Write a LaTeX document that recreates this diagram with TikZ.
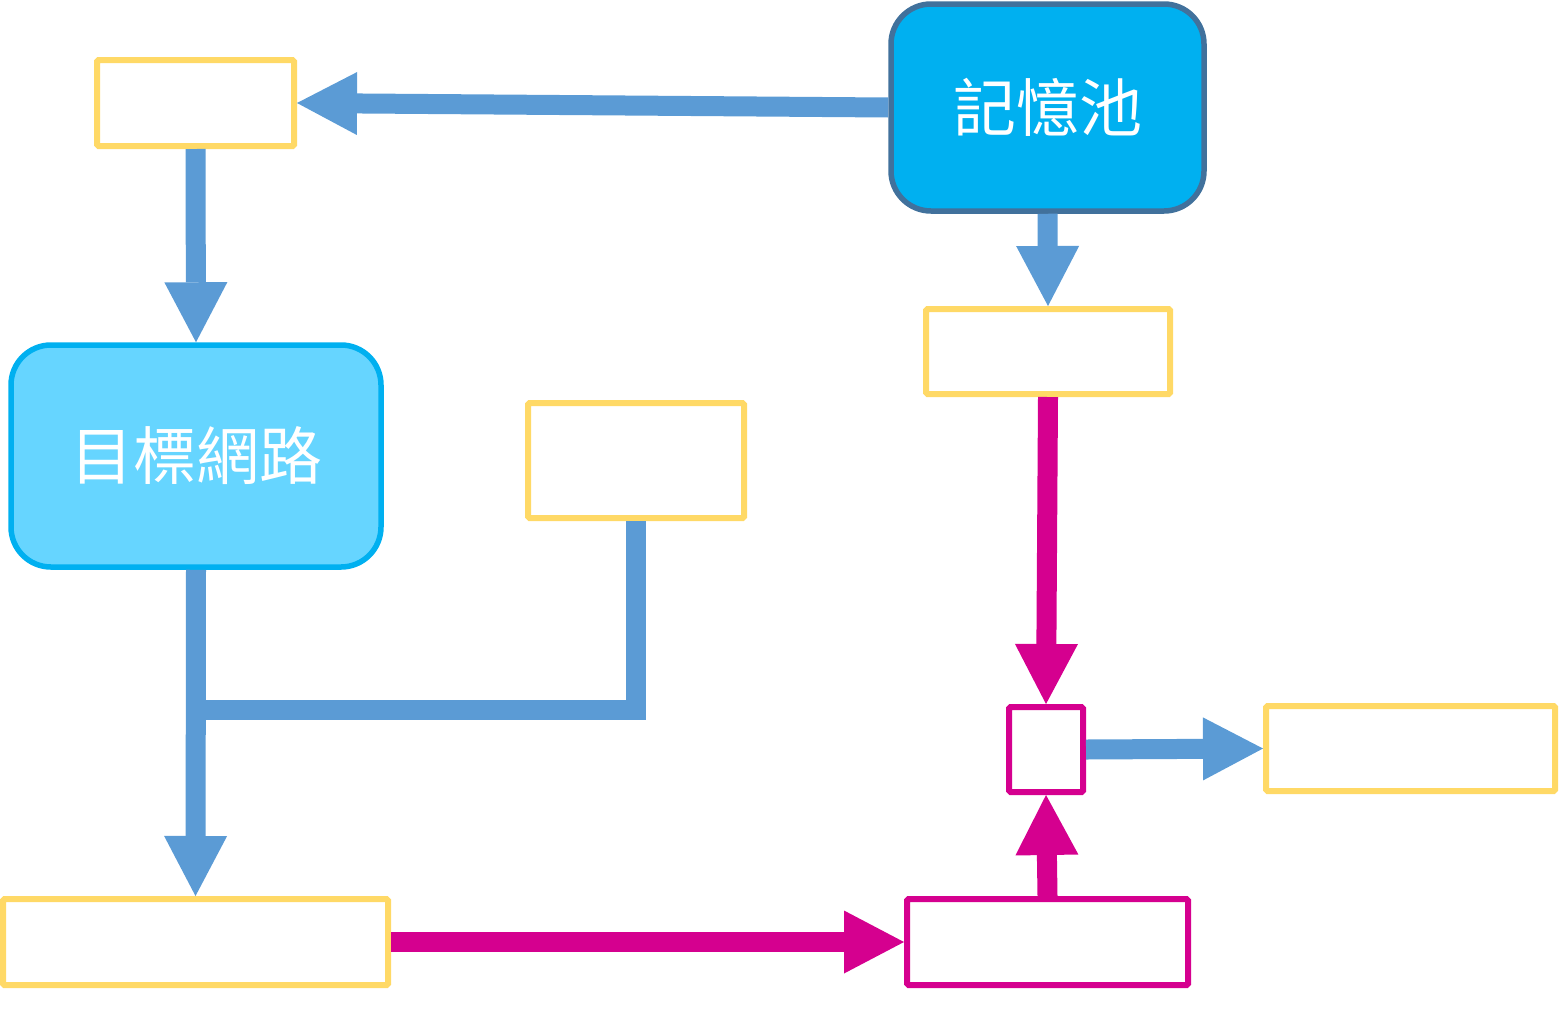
\documentclass[tikz,border=0pt]{standalone}
\usepackage{fontspec}
\newfontfamily\cjk{Noto Sans CJK TC}
\usetikzlibrary{arrows.meta}
\definecolor{ybox}{HTML}{FFD966}
\definecolor{barr}{HTML}{5B9BD5}
\definecolor{marr}{HTML}{D5008F}
\definecolor{poolfill}{HTML}{00B0F0}
\definecolor{poolline}{HTML}{41719C}
\definecolor{netfill}{HTML}{66D5FF}
\tikzset{
  ybx/.style={draw=ybox, line width=6pt, fill=white, rectangle, rounded corners=1.5pt},
  mbx/.style={draw=marr, line width=6pt, fill=white, rectangle, rounded corners=1.5pt},
  bigbx/.style={rounded corners=40pt, line width=5.5pt, text=white, font=\cjk\fontsize{63}{65}\selectfont},
  barrow/.style={draw=barr, line width=20pt, -{Triangle[length=60pt,width=63pt,line width=0pt]}},
  marrow/.style={draw=marr, line width=20pt, -{Triangle[length=60pt,width=63pt,line width=0pt]}},
}
\begin{document}
\begin{tikzpicture}[x=1pt,y=-1pt]
\useasboundingbox (0,0) rectangle (1562,1012);
\node[bigbx, draw=poolline, fill=poolfill, minimum width=313pt, minimum height=207pt] (pool) at (1047.5,107.5) {記憶池};
\node[bigbx, draw=poolfill, fill=netfill, minimum width=370pt, minimum height=222pt] (net) at (196,456) {目標網路};
\node[ybx, minimum width=197pt, minimum height=86pt] (A) at (195.5,103) {};
\node[ybx, minimum width=244pt, minimum height=85pt] (B) at (1048,351.5) {};
\node[ybx, minimum width=216pt, minimum height=115pt] (C) at (636,460.5) {};
\node[ybx, minimum width=385pt, minimum height=86pt] (D) at (195.5,942) {};
\node[mbx, minimum width=281pt, minimum height=86pt] (E) at (1047.5,942) {};
\node[mbx, minimum width=74pt, minimum height=85pt] (F) at (1046,749.5) {};
\node[ybx, minimum width=289pt, minimum height=85pt] (G) at (1410.5,748.5) {};
\coordinate (j) at (197,710);
\draw[barrow] (pool.west) -- (A.east);
\draw[barrow] (A.south) -- (net.north);
\draw[barrow] (pool.south) -- (B.north);
\draw[barrow] (net.south) -- (D.north);
\draw[draw=barr, line width=20pt] (C.south) |- (j);
\draw[marrow] (D.east) -- (E.west);
\draw[marrow] (B.south) -- (F.north);
\draw[marrow] (E.north) -- (F.south);
\draw[barrow] (F.east) -- (G.west);
\end{tikzpicture}
\end{document}
